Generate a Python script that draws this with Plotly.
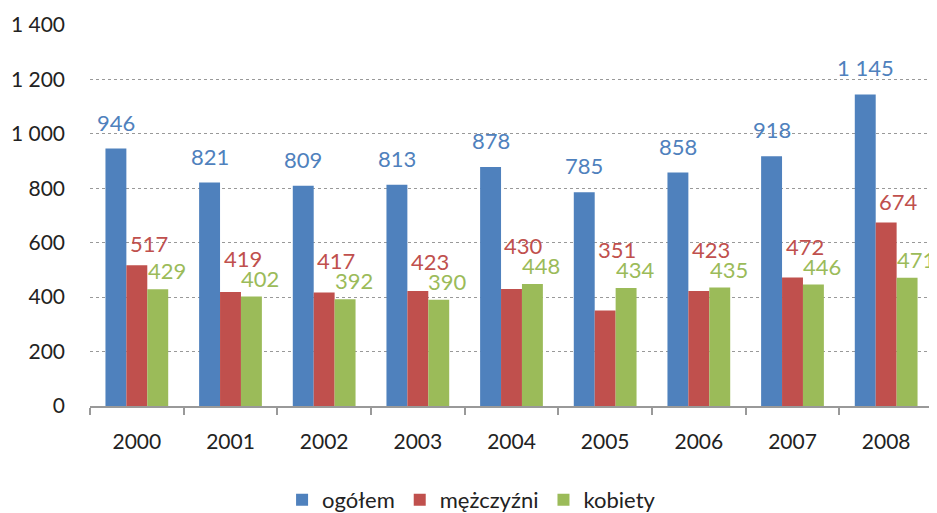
import plotly.graph_objects as go

years = ["2000", "2001", "2002", "2003", "2004", "2005", "2006", "2007", "2008"]
ogolem = [946, 821, 809, 813, 878, 785, 858, 918, 1145]
mezczyzni = [517, 419, 417, 423, 430, 351, 423, 472, 674]
kobiety = [429, 402, 392, 390, 448, 434, 435, 446, 471]

series = [
    ("ogółem", ogolem, "#4F81BD"),
    ("mężczyźni", mezczyzni, "#C0504D"),
    ("kobiety", kobiety, "#9BBB59"),
]

FONT = "Lato"
# page body has an 8px default margin
W, H = 929, 505
ML, MR, MT, MB = 82, 4, 17, 107
BARGAP = 0.33
YMAX = 1400
LABEL_SIZE = 22
cat_px = (W - ML - MR) / len(years)
bar_px = cat_px * (1 - BARGAP) / len(series)
px_per_unit = (H - MT - MB) / YMAX

# label placement (Excel-like: red labels lifted above the green ones)
x_nudge = [0, 12, 9]
blue_shift = 11
green_shift = 3
red_min_shift = 6
cap_px = 0.72 * LABEL_SIZE


def fmt(v):
    s = f"{v:,d}"
    return s.replace(",", "\u00a0")


fig = go.Figure()
annotations = []
for i, (name, vals, col) in enumerate(series):
    fig.add_trace(go.Bar(
        x=years, y=vals, name=name,
        marker=dict(color=col, line=dict(width=0)),
    ))
    off = (i - (len(series) - 1) / 2) * bar_px + x_nudge[i]
    for j, v in enumerate(vals):
        if i == 0:
            ys = blue_shift
        elif i == 2:
            ys = green_shift
        else:
            green_top = (kobiety[j] - v) * px_per_unit + green_shift + cap_px + 4
            ys = max(red_min_shift, green_top)
        annotations.append(dict(
            x=j, y=v, xref="x", yref="y", text=fmt(v), showarrow=False,
            xanchor="center", yanchor="bottom", xshift=off, yshift=ys,
            font=dict(color=col, size=LABEL_SIZE, family=FONT),
        ))

fig.update_layout(
    width=W, height=H,
    margin=dict(l=ML, r=MR, t=MT, b=MB, autoexpand=False),
    paper_bgcolor="white", plot_bgcolor="white",
    barmode="group", bargap=BARGAP, bargroupgap=0,
    separators=", ",
    font=dict(family=FONT, size=21, color="#222"),
    legend=dict(orientation="h", x=0.499, xref="container", xanchor="center",
                y=0.026, yref="container", yanchor="middle",
                font=dict(size=22, family=FONT, color="#222"), itemwidth=30,
                traceorder="normal"),
    annotations=annotations,
)
fig.update_yaxes(range=[0, YMAX], dtick=200, tickformat=",d", showgrid=True,
                 gridcolor="#999", griddash="dot", gridwidth=1, zeroline=False,
                 showline=False, ticks="", ticklabelstandoff=24, automargin=False,
                 tickfont=dict(size=21, family=FONT, color="#222"))
fig.update_xaxes(type="category", range=[-0.5, len(years) - 0.5],
                 showline=True, linecolor="#999", linewidth=1.5,
                 ticks="outside", tickson="boundaries", ticklen=7, tickcolor="#999",
                 tickwidth=1.5, ticklabelstandoff=16, automargin=False,
                 tickfont=dict(size=21, family=FONT, color="#222"))

fig.write_html("out.html")
